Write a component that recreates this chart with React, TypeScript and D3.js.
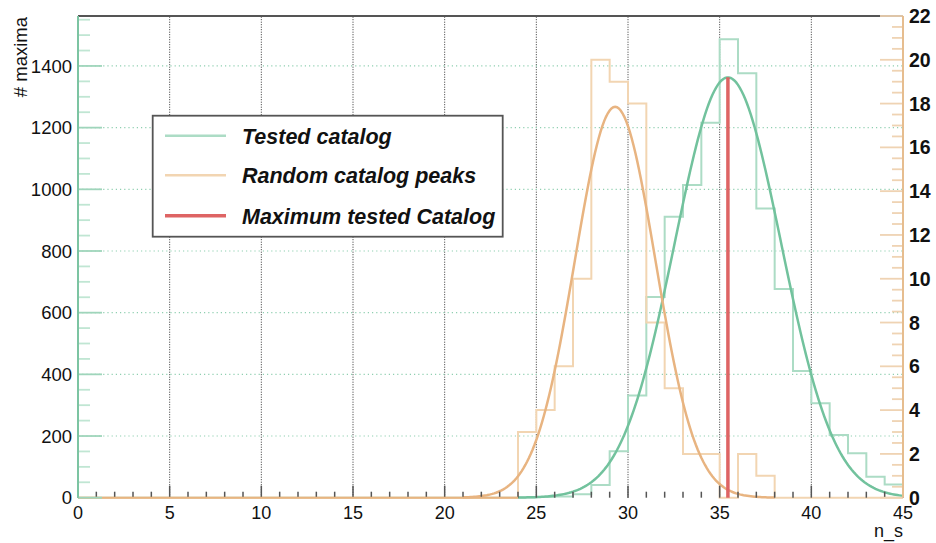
import React from "react";
import * as d3 from "d3";

// ---- data ----
const binStart = 0;
const binWidth = 1;
const testedCounts = [
  0, 0, 0, 0, 0, 0, 0, 0, 0, 0, 0, 0, 0, 0, 0, 0, 0, 0, 0, 0, 0, 0, 0, 0,
  1, 2, 4, 11, 41, 151, 331, 651, 911, 1014, 1216, 1487, 1376, 938, 677, 411, 306, 203, 144, 68, 43,
];
const randomCounts = [
  0, 0, 0, 0, 0, 0, 0, 0, 0, 0, 0, 0, 0, 0, 0, 0, 0, 0, 0, 0, 0, 0, 0, 0,
  3, 4, 6, 10, 20, 19, 18, 8, 5, 2, 2, 0, 2, 1, 0, 0, 0, 0, 0, 0, 0,
];
// gaussian fit parameters: [constant, mean, sigma, xmin, xmax]
const testedFit = [1363, 35.45, 2.9, 24, 45];
const randomFit = [17.85, 29.3, 2.2, 21, 38];
const maxTested = [35.45, 1363];
const xTicks = [0, 5, 10, 15, 20, 25, 30, 35, 40, 45];
const leftTicks = [0, 200, 400, 600, 800, 1000, 1200, 1400];
const rightTicks = [0, 2, 4, 6, 8, 10, 12, 14, 16, 18, 20, 22];
const legendLabels = ["Tested catalog", "Random catalog peaks", "Maximum tested Catalog"];

const W = 936, H = 543;
const L = 78, R = 903, T = 16, B = 497.7;

const GREEN_H = "#acdcc5";
const GREEN_C = "#72c29d";
const GREEN_AX = "#7cc4a2";
const ORANGE_H = "#f2d5b2";
const ORANGE_C = "#e8b481";
const ORANGE_AX = "#e6bd8f";
const RED = "#de6464";
const FONT = "'Liberation Sans', Arial, Helvetica, sans-serif";

export default function App() {
  const x = d3.scaleLinear().domain([0, 45]).range([L, R]);
  const yL = d3.scaleLinear().domain([0, 1562]).range([B, T]);
  const yR = d3.scaleLinear().domain([0, 22]).range([B, T]);

  const histPath = (counts: number[], y: d3.ScaleLinear<number, number>) => {
    const pts: [number, number][] = [[x(binStart), y(0)]];
    counts.forEach((c, i) => {
      const x0 = binStart + i * binWidth;
      pts.push([x(x0), y(c)]);
      pts.push([x(x0 + binWidth), y(c)]);
    });
    return d3.line()(pts) as string;
  };

  const fitPath = (p: number[], y: d3.ScaleLinear<number, number>) => {
    const [c, m, s, a, b] = p;
    const xs = d3.range(a, b + 0.0001, 0.1);
    return d3
      .line<number>()
      .x((v) => x(v))
      .y((v) => y(c * Math.exp(-((v - m) ** 2) / (2 * s * s))))(xs) as string;
  };

  const xMinor = d3.range(0, 46, 1);
  const leftMinor = d3.range(0, 1562, 50);
  const rightMinor = d3.range(0, 22.01, 0.5);

  const legY = [135.7, 175.3, 215.7];
  const legColors = [GREEN_H, ORANGE_H, RED];
  const legWidths = [2.5, 2.5, 3.5];

  return (
    <svg
      width={W}
      height={H}
      style={{ position: "absolute", left: 0, top: 0, background: "#fff" }}
      fontFamily={FONT}
    >
      {/* grid */}
      {xTicks.filter((t) => t > 0 && t < 45).map((t) => (
        <line key={"gx" + t} x1={x(t)} x2={x(t)} y1={B} y2={T} stroke="#333" strokeWidth={1} strokeDasharray="1,1.5" />
      ))}
      {leftTicks.filter((t) => t > 0).map((t) => (
        <line key={"gy" + t} x1={L} x2={R} y1={yL(t)} y2={yL(t)} stroke="#8fcfb1" strokeWidth={1.2} strokeDasharray="1.2,3" />
      ))}

      {/* histograms */}
      <path d={histPath(testedCounts, yL)} fill="none" stroke={GREEN_H} strokeWidth={2} />
      <path d={histPath(randomCounts, yR)} fill="none" stroke={ORANGE_H} strokeWidth={2} />

      {/* fits */}
      <path d={fitPath(testedFit, yL)} fill="none" stroke={GREEN_C} strokeWidth={2.5} />
      <path d={fitPath(randomFit, yR)} fill="none" stroke={ORANGE_C} strokeWidth={2.5} />

      {/* maximum tested line */}
      <line x1={x(maxTested[0])} x2={x(maxTested[0])} y1={yL(0)} y2={yL(maxTested[1])} stroke={RED} strokeWidth={3.5} />

      {/* bottom axis */}
      {xMinor.map((t) => (
        <line key={"xt" + t} x1={x(t)} x2={x(t)} y1={B} y2={B - (t % 5 === 0 ? 12 : 6)} stroke="#555" strokeWidth={1.5} />
      ))}
      <line x1={L} x2={x(24)} y1={B} y2={B} stroke={ORANGE_C} strokeWidth={2} />
      {xTicks.map((t) => (
        <text key={"xl" + t} x={x(t)} y={519} textAnchor="middle" fontSize={18} fill="#111">
          {t}
        </text>
      ))}
      <text x={R} y={537} textAnchor="end" fontSize={18} fill="#111">n_s</text>

      {/* top frame */}
      <line x1={L} x2={R} y1={T} y2={T} stroke="#555" strokeWidth={2} />

      {/* left axis */}
      {leftMinor.map((t) => (
        <line key={"lt" + t} x1={L} x2={L + (t % 200 === 0 ? 24 : 12)} y1={yL(t)} y2={yL(t)} stroke={t % 200 === 0 ? "#9fd5bb" : "#c0e6d3"} strokeWidth={1.8} />
      ))}
      <line x1={L} x2={L} y1={B} y2={T} stroke={GREEN_AX} strokeWidth={2} />
      {leftTicks.map((t) => (
        <text key={"ll" + t} x={72} y={yL(t)} dy="0.36em" textAnchor="end" fontSize={18.5} fill="#111">
          {t}
        </text>
      ))}
      <text transform={`translate(26.5,17) rotate(-90)`} textAnchor="end" fontSize={18.5} fill="#111">
        # maxima
      </text>

      {/* right axis */}
      {rightMinor.map((t) => (
        <line key={"rt" + t} x1={R} x2={R - (t % 2 === 0 ? 23 : 11)} y1={yR(t)} y2={yR(t)} stroke="#efd3b3" strokeWidth={1.8} />
      ))}
      <line x1={R} x2={R} y1={B} y2={T} stroke={ORANGE_AX} strokeWidth={2} />
      {rightTicks.map((t) => (
        <text key={"rl" + t} x={909} y={yR(t)} dy="0.36em" textAnchor="start" fontSize={19.5} fontWeight="bold" fill="#111">
          {t}
        </text>
      ))}

      {/* legend */}
      <rect x={152.7} y={115.7} width={350} height={121} fill="#fff" stroke="#555" strokeWidth={1.8} />
      {legendLabels.map((lab, i) => (
        <g key={lab}>
          <line x1={165} x2={226} y1={legY[i]} y2={legY[i]} stroke={legColors[i]} strokeWidth={legWidths[i]} />
          <text x={242} y={legY[i] + 8} fontSize={21.5} fontWeight="bold" fontStyle="italic" fill="#111">
            {lab}
          </text>
        </g>
      ))}
    </svg>
  );
}
